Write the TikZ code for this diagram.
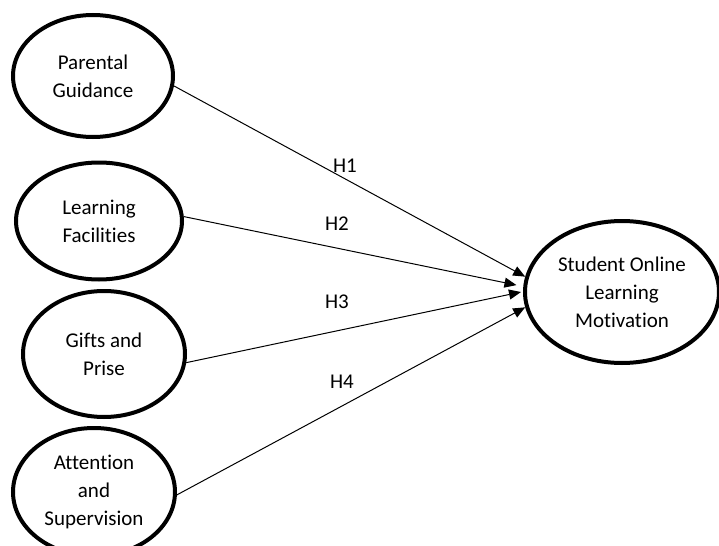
\documentclass[tikz,border=0pt]{standalone}
\usepackage{fontspec}
\setmainfont{Carlito}[Ligatures=NoCommon]
\usetikzlibrary{shapes.geometric, arrows.meta}

\tikzset{
	factor/.style={ellipse, draw=black, line width=2pt, align=center, font=\fontsize{10.5}{14}\selectfont, inner sep=0pt},
	hypo/.style={-{Triangle[length=6pt, width=5pt]}, line width=0.5pt},
	hlabel/.style={font=\fontsize{10.5}{14}\selectfont}
}

\begin{document}
\begin{tikzpicture}[x=0.5pt, y=-0.5pt]
	\useasboundingbox (0,0) rectangle (719,546);
	\clip (0,0) rectangle (719,546);

	% predictors
	\node[factor, minimum width=80pt, minimum height=61pt](parental) at (93,76){Parental\\Guidance};
	\node[factor, minimum width=83pt, minimum height=58.5pt](facilities) at (99,221){Learning\\Facilities};
	\node[factor, minimum width=81pt, minimum height=63pt](gifts) at (104,354){Gifts and\\Prise};
	\node[factor, minimum width=81pt, minimum height=64pt](attention) at (94,492){Attention\\and\\Supervision};

	% outcome
	\node[factor, minimum width=97pt, minimum height=71pt](motivation) at (622,292){Student Online\\Learning\\Motivation};

	% hypotheses
	\draw[hypo] (parental.-7) -- (motivation.171);
	\draw[hypo] (facilities.3) -- ([xshift=-3.5pt]motivation.176);
	\draw[hypo] (gifts.-6) -- ([xshift=-1pt]motivation.180);
	\draw[hypo] (attention.-2) -- (motivation.189);

	\node[hlabel](h1) at (345,166){H1};
	\node[hlabel](h2) at (337,224){H2};
	\node[hlabel](h3) at (337,302){H3};
	\node[hlabel](h4) at (342,382){H4};
\end{tikzpicture}
\end{document}
